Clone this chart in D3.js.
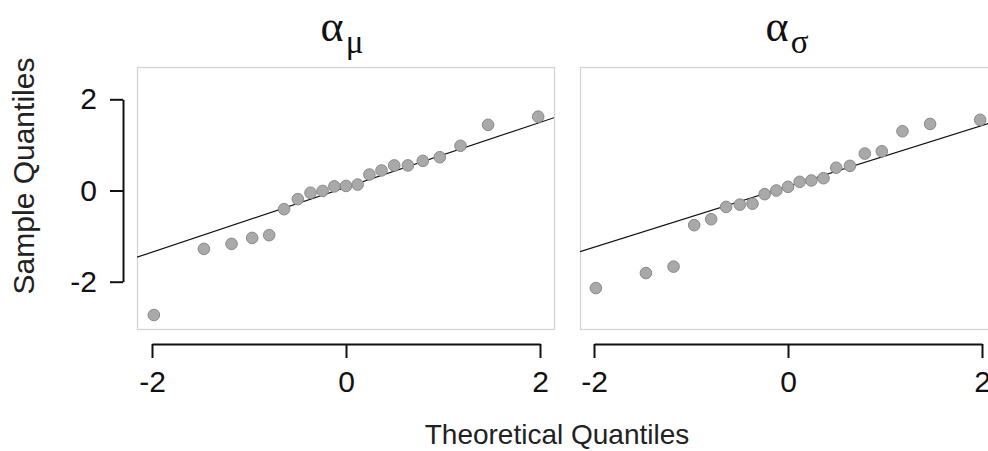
<!DOCTYPE html>
<html>
<head>
<meta charset="utf-8">
<script src="https://cdn.jsdelivr.net/npm/d3@7/dist/d3.min.js"></script>
<style>
  html, body { margin: 0; padding: 0; background: #ffffff; }
  svg { display: block; }
</style>
</head>
<body>
<svg id="chart" width="988" height="451"></svg>
<script>
// Theoretical normal quantiles for n = 21 (x positions of the points)
const theoretical = [-1.981, -1.465, -1.180, -0.967, -0.792, -0.638, -0.497, -0.366, -0.241, -0.120, 0,
                      0.120, 0.241, 0.366, 0.497, 0.638, 0.792, 0.967, 1.180, 1.465, 1.981];
// Sample quantiles
const alphaMu = [-2.73, -1.28, -1.17, -1.04, -0.98, -0.41, -0.19, -0.05, -0.01, 0.09, 0.10,
                 0.13, 0.35, 0.44, 0.55, 0.55, 0.65, 0.73, 0.98, 1.44, 1.62];
const alphaSigma = [-2.14, -1.81, -1.67, -0.76, -0.63, -0.36, -0.31, -0.29, -0.08, 0.00, 0.08,
                    0.19, 0.22, 0.27, 0.50, 0.54, 0.81, 0.86, 1.30, 1.46, 1.55];
const panelSubscripts = ["μ", "σ"];
const xTicks = [-2, 0, 2];
const yTicks = [-2, 0, 2];
const xLabel = "Theoretical Quantiles";
const yLabel = "Sample Quantiles";

const panels = [
  { sub: panelSubscripts[0], sample: alphaMu, left: 137, right: 554, x0: 152, x1: 540, tx: 342 },
  { sub: panelSubscripts[1], sample: alphaSigma, left: 580, right: 996, x0: 594, x1: 982, tx: 787 }
];

const svg = d3.select("#chart");
const boxTop = 67, boxBottom = 329;
const y = d3.scaleLinear().domain([-2, 2]).range([281.7, 99.3]);
const qz = 0.6745; // qnorm(0.75)

const sansFont = "'Liberation Sans', Arial, Helvetica, sans-serif";
const serifFont = "'Liberation Serif', 'Times New Roman', serif";

panels.forEach((p, i) => {
  const x = d3.scaleLinear().domain([-2, 2]).range([p.x0, p.x1]);
  const g = svg.append("g");

  const clipId = "clip" + i;
  svg.append("clipPath").attr("id", clipId).append("rect")
    .attr("x", p.left).attr("y", boxTop)
    .attr("width", p.right - p.left).attr("height", boxBottom - boxTop);

  // plot box
  g.append("rect")
    .attr("x", p.left + 0.5).attr("y", boxTop + 0.5)
    .attr("width", p.right - p.left).attr("height", boxBottom - boxTop)
    .attr("fill", "none").attr("stroke", "#d4d4d4").attr("stroke-width", 1.3);

  // qq line through quartiles
  const sorted = p.sample.slice().sort(d3.ascending);
  const q1 = d3.quantile(sorted, 0.25), q3 = d3.quantile(sorted, 0.75);
  const slope = (q3 - q1) / (2 * qz);
  const intercept = q1 + slope * qz;
  const xd = x.invert(p.left), xe = x.invert(p.right);
  g.append("line")
    .attr("clip-path", `url(#${clipId})`)
    .attr("x1", x(xd)).attr("y1", y(intercept + slope * xd))
    .attr("x2", x(xe)).attr("y2", y(intercept + slope * xe))
    .attr("stroke", "#111").attr("stroke-width", 1.2);

  // points
  g.append("g").attr("clip-path", `url(#${clipId})`)
    .selectAll("circle").data(p.sample).join("circle")
    .attr("cx", (d, k) => x(theoretical[k]))
    .attr("cy", d => y(d))
    .attr("r", 5.8)
    .attr("fill", "#a9a9a9")
    .attr("stroke", "#8a8a8a")
    .attr("stroke-width", 1);

  // x axis
  const xa = g.append("g").attr("transform", `translate(0,344)`)
    .call(d3.axisBottom(x).tickValues(xTicks).tickSize(14).tickSizeOuter(0).tickPadding(13)
      .tickFormat(d3.format("d")));
  xa.select(".domain").attr("stroke", "#111").attr("stroke-width", 2);
  xa.selectAll(".tick line").attr("stroke", "#111").attr("stroke-width", 2);
  xa.selectAll(".tick text").attr("font-family", sansFont).attr("font-size", 30).attr("fill", "#111")
    .text(d => d < 0 ? "-" + Math.abs(d) : d);

  // title alpha with subscript
  const t = g.append("text")
    .attr("x", p.tx).attr("y", 41)
    .attr("text-anchor", "middle")
    .attr("font-family", serifFont).attr("fill", "#111");
  t.append("tspan").attr("font-size", 44).text("α");
  t.append("tspan").attr("font-size", 33).attr("dx", 2).attr("dy", 12).text(p.sub);
});

// y axis (left panel only)
const ya = svg.append("g").attr("transform", "translate(123,0)")
  .call(d3.axisLeft(y).tickValues(yTicks).tickSize(13).tickSizeOuter(0).tickPadding(13));
ya.select(".domain").attr("stroke", "#111").attr("stroke-width", 2);
ya.selectAll(".tick line").attr("stroke", "#111").attr("stroke-width", 2);
ya.selectAll(".tick text").attr("font-family", sansFont).attr("font-size", 30).attr("fill", "#111")
  .text(d => d < 0 ? "-" + Math.abs(d) : d);

// axis titles
svg.append("text")
  .attr("x", 557).attr("y", 444)
  .attr("text-anchor", "middle")
  .attr("font-family", sansFont).attr("font-size", 28).attr("fill", "#222")
  .text(xLabel);

svg.append("text")
  .attr("transform", "translate(34,176) rotate(-90)")
  .attr("text-anchor", "middle")
  .attr("font-family", sansFont).attr("font-size", 30).attr("fill", "#222")
  .text(yLabel);
</script>
</body>
</html>
